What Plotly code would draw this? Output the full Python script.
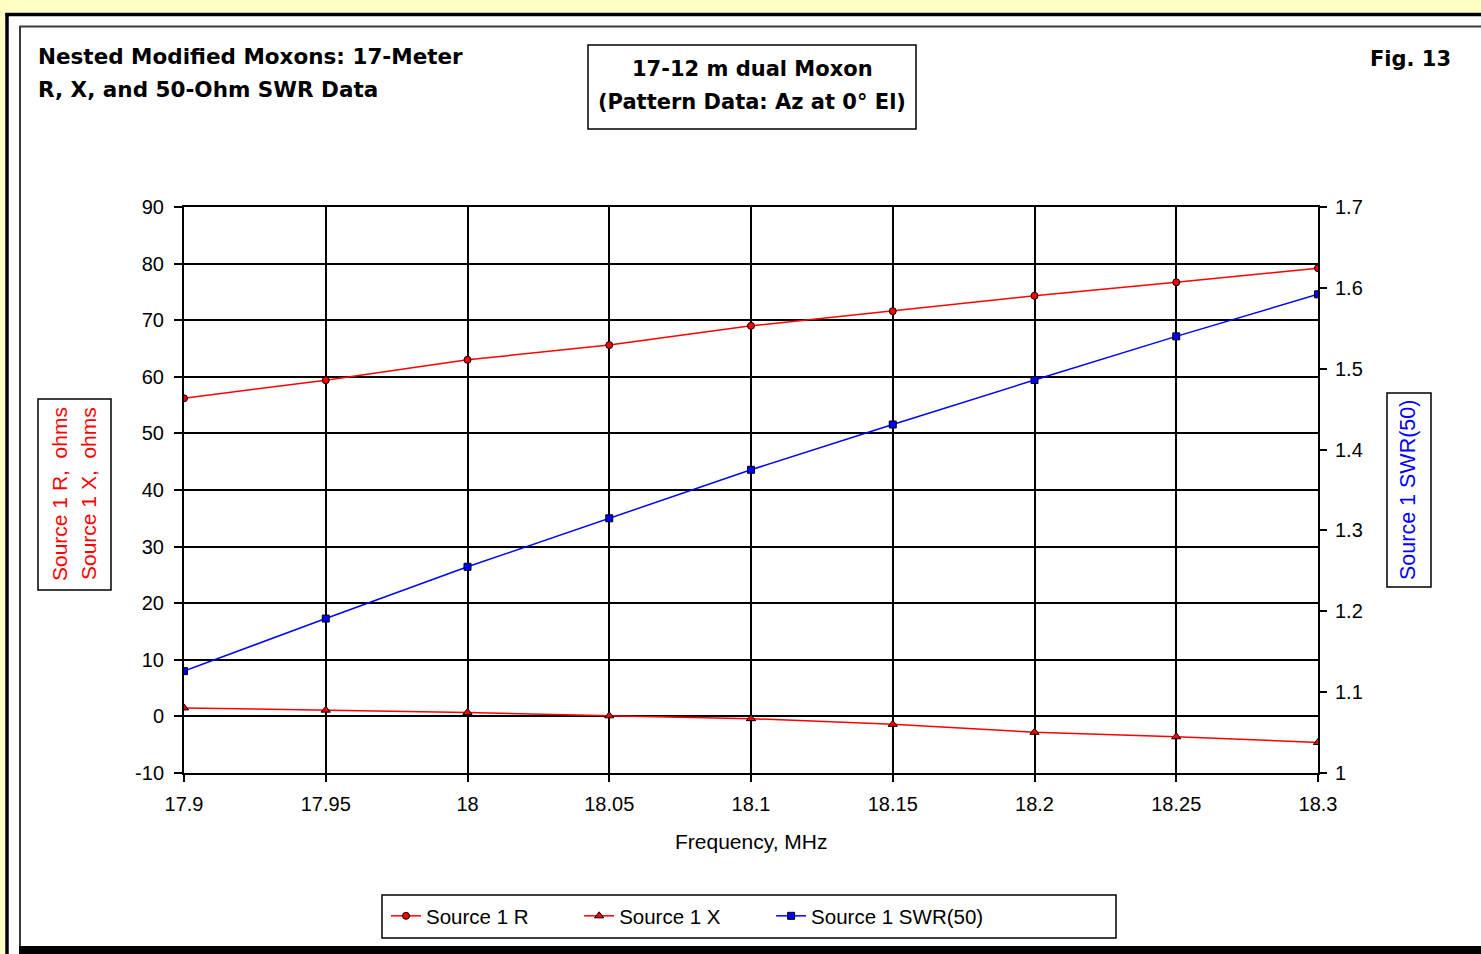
import plotly.graph_objects as go

# Source data: 17-metre sweep of the nested Moxon pair
freq = [17.9, 17.95, 18.0, 18.05, 18.1, 18.15, 18.2, 18.25, 18.3]
src_r = [56.2, 59.4, 63.0, 65.6, 69.0, 71.6, 74.3, 76.7, 79.2]
src_x = [1.5, 1.1, 0.7, 0.1, -0.4, -1.4, -2.8, -3.6, -4.6]
swr50 = [1.126, 1.191, 1.255, 1.315, 1.375, 1.431, 1.486, 1.540, 1.592]

series_names = ["Source 1 R", "Source 1 X", "Source 1 SWR(50)"]

x_tick_vals = [17.9, 17.95, 18.0, 18.05, 18.1, 18.15, 18.2, 18.25, 18.3]
x_tick_text = ["17.9", "17.95", "18", "18.05", "18.1", "18.15", "18.2", "18.25", "18.3"]
left_tick_vals = [-10, 0, 10, 20, 30, 40, 50, 60, 70, 80, 90]
left_tick_text = ["-10", "0", "10", "20", "30", "40", "50", "60", "70", "80", "90"]
right_tick_vals = [1.0, 1.1, 1.2, 1.3, 1.4, 1.5, 1.6, 1.7]
right_tick_text = ["1", "1.1", "1.2", "1.3", "1.4", "1.5", "1.6", "1.7"]

W, H = 1481, 954
ML, MR, MT, MB = 184, 163, 207, 181
PW, PH = W - ML - MR, H - MT - MB

RED = "#FF0000"
BLUE = "#0000FF"
SANS = "Liberation Sans, Arial, sans-serif"
BOLD = "DejaVu Sans, sans-serif"
PAD = "\u00a0" * 8  # spacing between legend entries


def px(x):
    return (x - ML) / PW


def py(y):
    return (H - MB - y) / PH


fig = go.Figure()

fig.add_trace(go.Scatter(
    x=freq, y=src_r, name=series_names[0] + PAD, mode="lines+markers",
    line=dict(color=RED, width=1.5),
    marker=dict(symbol="circle", size=7, color=RED, line=dict(color="black", width=1)),
))
fig.add_trace(go.Scatter(
    x=freq, y=src_x, name=series_names[1] + PAD, mode="lines+markers",
    line=dict(color=RED, width=1.5),
    marker=dict(symbol="triangle-up", size=8, color=RED, line=dict(color="black", width=1)),
))
fig.add_trace(go.Scatter(
    x=freq, y=swr50, name=series_names[2], mode="lines+markers", yaxis="y2",
    line=dict(color=BLUE, width=1.5),
    marker=dict(symbol="square", size=7, color=BLUE, line=dict(color="black", width=1)),
))


def rect(x0, y0, x1, y1, fill=None, line_color=None, lw=0, layer="above"):
    return dict(
        type="rect", xref="paper", yref="paper",
        x0=px(x0), x1=px(x1), y0=py(y1), y1=py(y0),
        fillcolor=fill if fill else "rgba(0,0,0,0)",
        line=dict(color=line_color if line_color else "rgba(0,0,0,0)", width=lw),
        layer=layer,
    )


def hline(x0, x1, y, color, lw):
    return dict(type="line", xref="paper", yref="paper",
                x0=px(x0), x1=px(x1), y0=py(y), y1=py(y),
                line=dict(color=color, width=lw), layer="above")


def vline(x, y0, y1, color, lw):
    return dict(type="line", xref="paper", yref="paper",
                x0=px(x), x1=px(x), y0=py(y0), y1=py(y1),
                line=dict(color=color, width=lw), layer="above")


shapes = [
    # page background strips and frame
    rect(0, 0, W, 12.5, fill="#FFFFC4"),
    rect(0, 0, 5.5, H, fill="#FFFFC4"),
    hline(5.5, W, 14.5, "black", 3.5),
    vline(7, 13, H, "black", 3.5),
    hline(19.5, W, 26.5, "#3a3a3a", 2),
    vline(20, 26, H, "#3a3a3a", 2),
    rect(19, 946, W, H, fill="black"),
    # boxed captions
    rect(588, 45, 916, 129, line_color="black", lw=1.5),
    rect(38, 399, 111, 590, line_color="black", lw=1.5),
    rect(1387, 393, 1431, 587, line_color="black", lw=1.5),
    rect(382, 895, 1116, 938, line_color="black", lw=1.5),
]


def text(x, y, s, size, color="black", family=SANS, xanchor="left", angle=0):
    return dict(xref="paper", yref="paper", x=px(x), y=py(y), text=s,
                showarrow=False, xanchor=xanchor, yanchor="middle",
                textangle=angle, font=dict(family=family, size=size, color=color))


annotations = [
    text(36, 57, "<b>Nested Modified Moxons: 17-Meter</b>", 21.5, family=BOLD),
    text(36, 89, "<b>R, X, and 50-Ohm SWR Data</b>", 21.5, family=BOLD),
    text(752, 69, "<b>17-12 m dual Moxon</b>", 21, family=BOLD, xanchor="center"),
    text(752, 102, "<b>(Pattern Data: Az at 0° El)</b>", 21, family=BOLD, xanchor="center"),
    text(1410, 59, "<b>Fig. 13</b>", 21, family=BOLD, xanchor="center"),
    text(751, 841, "Frequency, MHz", 21, xanchor="center"),
    text(59, 494, "Source 1 R,  ohms", 21, color=RED, xanchor="center", angle=-90),
    text(88, 494, "Source 1 X,  ohms", 21, color=RED, xanchor="center", angle=-90),
    text(1408, 490, "Source 1 SWR(50)", 21.5, color=BLUE, xanchor="center", angle=-90),
]

fig.update_layout(
    width=W, height=H,
    margin=dict(l=ML, r=MR, t=MT, b=MB, pad=0),
    paper_bgcolor="white", plot_bgcolor="white",
    font=dict(family=SANS, size=20, color="black"),
    showlegend=True,
    legend=dict(
        orientation="h", x=px(386), y=py(916), xanchor="left", yanchor="middle",
        bgcolor="rgba(0,0,0,0)", borderwidth=0,
        font=dict(family=SANS, size=20.5, color="black"),
    ),
    xaxis=dict(
        range=[17.9, 18.3], tickvals=x_tick_vals, ticktext=x_tick_text,
        showgrid=True, gridcolor="black", gridwidth=2,
        showline=True, linecolor="black", linewidth=2, mirror=True,
        ticks="outside", ticklen=7, tickwidth=2, tickcolor="black",
        tickfont=dict(family=SANS, size=20), zeroline=False,
        ticklabelstandoff=5,
    ),
    yaxis=dict(
        range=[-10, 90], tickvals=left_tick_vals, ticktext=left_tick_text,
        showgrid=True, gridcolor="black", gridwidth=2,
        zeroline=True, zerolinecolor="black", zerolinewidth=2,
        showline=True, linecolor="black", linewidth=2,
        ticks="outside", ticklen=8, tickwidth=2, tickcolor="black",
        tickfont=dict(family=SANS, size=20), ticklabelstandoff=6,
    ),
    yaxis2=dict(
        range=[1.0, 1.7], tickvals=right_tick_vals, ticktext=right_tick_text,
        overlaying="y", side="right", anchor="x",
        showgrid=False, zeroline=False,
        showline=True, linecolor="black", linewidth=2,
        ticks="outside", ticklen=7, tickwidth=2, tickcolor="black",
        tickfont=dict(family=SANS, size=20), ticklabelstandoff=4,
    ),
    # inner half of the crossing tick marks on the SWR axis
    yaxis3=dict(
        range=[1.0, 1.7], tickvals=right_tick_vals,
        overlaying="y", side="right", anchor="x",
        showgrid=False, zeroline=False, showline=False,
        showticklabels=False,
        ticks="inside", ticklen=7, tickwidth=2, tickcolor="black",
    ),
    shapes=shapes,
    annotations=annotations,
)

fig.write_html("out.html")
